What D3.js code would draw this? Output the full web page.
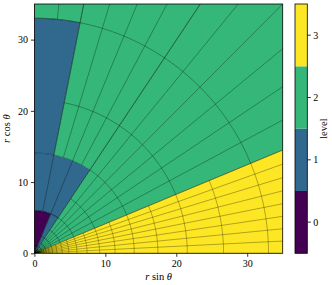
<!DOCTYPE html>
<html><head><meta charset="utf-8">
<script src="https://cdn.jsdelivr.net/npm/d3@7"></script>
<style>body{margin:0;background:#fff}svg{display:block}</style>
</head><body>
<svg id="c" width="332" height="285"></svg>
<script>
// ---- data ----
const levels = [0, 1, 2, 3];
const levelColors = ["#440154", "#31688e", "#35b779", "#fde725"];
// refinement regions (theta in degrees measured from the vertical axis)
const regionLevel  = [0, 1, 1, 1, 2, 2, 2, 3];
const regionRIn    = [0, 0, 6, 14.07, 33, 14.07, 0, 0];
const regionROut   = [6, 6, 14.07, 33, 50, 50, 50, 50];
const regionThStart= [0, 22.5, 0, 0, 0, 11.25, 33.75, 67.5];
const regionThEnd  = [22.5, 33.75, 33.75, 11.25, 11.25, 33.75, 67.5, 90];
// mesh parameters
const baseDTheta = 22.5;   // level-0 angular cell size (deg)
const rRef = 6;            // a level-0 radial face
const rRatio0 = 5.5;       // level-0 radial cell ratio
const rMin = 0.01;
const xTicks = [0, 10, 20, 30];
const yTicks = [0, 10, 20, 30];
const cbarTicks = [0, 1, 2, 3];

// ---- layout ----
const svg = d3.select("#c");
const x = d3.scaleLinear().domain([0, 35]).range([34.4, 282.7]);
const y = d3.scaleLinear().domain([0, 35]).range([253.3, 4]);
const rad = Math.PI / 180;
const P = (r, th) => [x(r * Math.sin(th * rad)), y(r * Math.cos(th * rad))];

svg.append("defs").append("clipPath").attr("id", "clip")
  .append("rect").attr("x", x(0)).attr("y", y(35))
  .attr("width", x(35) - x(0)).attr("height", y(0) - y(35));

const plot = svg.append("g").attr("clip-path", "url(#clip)");
const line = d3.line();

function sectorPts(ri, ro, ts, te) {
  const pts = [];
  const n = Math.max(8, Math.ceil((te - ts) / 0.5));
  for (let i = 0; i <= n; i++) pts.push(P(ro, ts + (te - ts) * i / n));
  for (let i = n; i >= 0; i--) pts.push(P(ri, ts + (te - ts) * i / n));
  return pts;
}

// fills
regionLevel.forEach((L, i) => {
  plot.append("path")
    .attr("d", line(sectorPts(regionRIn[i], regionROut[i], regionThStart[i], regionThEnd[i])) + "Z")
    .attr("fill", levelColors[L]).attr("stroke", levelColors[L]).attr("stroke-width", 0.3);
});

// mesh lines
const mesh = plot.append("g").attr("fill", "none").attr("stroke", "#000")
  .attr("stroke-opacity", 0.55).attr("stroke-width", 0.55);
regionLevel.forEach((L, i) => {
  const ri = regionRIn[i], ro = regionROut[i], ts = regionThStart[i], te = regionThEnd[i];
  const dth = baseDTheta / Math.pow(2, L);
  const lstep = Math.log(rRatio0) / Math.pow(2, L);
  const r0 = Math.max(ri, rMin);
  // radial lines
  for (let k = Math.ceil(ts / dth - 1e-6); k * dth <= te + 1e-6; k++) {
    const th = k * dth;
    mesh.append("path").attr("d", line([P(ri, th), P(ro, th)]));
  }
  // arcs
  const kLo = Math.ceil(Math.log(r0 / rRef) / lstep - 1e-6);
  const kHi = Math.floor(Math.log(ro / rRef) / lstep + 1e-6);
  for (let k = kLo; k <= kHi; k++) {
    const r = rRef * Math.exp(k * lstep);
    const n = Math.max(4, Math.ceil((te - ts) / 0.5));
    const pts = d3.range(n + 1).map(j => P(r, ts + (te - ts) * j / n));
    mesh.append("path").attr("d", line(pts));
  }
});

// frame
svg.append("rect").attr("x", x(0)).attr("y", y(35))
  .attr("width", x(35) - x(0)).attr("height", y(0) - y(35))
  .attr("fill", "none").attr("stroke", "#000").attr("stroke-width", 0.8);

const font = "'Liberation Serif', 'DejaVu Serif', serif";
// axes
const xAxis = svg.append("g").attr("transform", `translate(0,${y(0)})`)
  .call(d3.axisBottom(x).tickValues(xTicks).tickSize(3.5).tickPadding(3));
const yAxis = svg.append("g").attr("transform", `translate(${x(0)},0)`)
  .call(d3.axisLeft(y).tickValues(yTicks).tickSize(3.5).tickPadding(3));
[xAxis, yAxis].forEach(a => {
  a.select(".domain").remove();
  a.selectAll("line").attr("stroke", "#000").attr("stroke-width", 0.8);
  a.selectAll("text").attr("font-family", font).attr("font-size", 10).attr("fill", "#000");
});

// axis labels
const xl = svg.append("text").attr("x", (x(0) + x(35)) / 2).attr("y", 280)
  .attr("text-anchor", "middle").attr("font-family", font).attr("font-size", 10.5);
xl.append("tspan").attr("font-style", "italic").text("r");
xl.append("tspan").text(" sin ");
xl.append("tspan").attr("font-style", "italic").text("θ");
const yl = svg.append("text").attr("transform", `translate(10,${(y(0) + y(35)) / 2}) rotate(-90)`)
  .attr("text-anchor", "middle").attr("font-family", font).attr("font-size", 10.5);
yl.append("tspan").attr("font-style", "italic").text("r");
yl.append("tspan").text(" cos ");
yl.append("tspan").attr("font-style", "italic").text("θ");

// colorbar
const cb = d3.scaleBand().domain(levels.slice().reverse()).range([4, 253.3]).paddingInner(0).paddingOuter(0);
const cbx = 295, cbw = 12.3;
levels.forEach(L => {
  svg.append("rect").attr("x", cbx).attr("y", cb(L)).attr("width", cbw).attr("height", cb.bandwidth())
    .attr("fill", levelColors[L]);
});
svg.append("rect").attr("x", cbx).attr("y", 4).attr("width", cbw).attr("height", 249.3)
  .attr("fill", "none").attr("stroke", "#000").attr("stroke-width", 0.8);
cbarTicks.forEach(t => {
  const yy = cb(t) + cb.bandwidth() / 2;
  svg.append("line").attr("x1", cbx + cbw).attr("x2", cbx + cbw + 3.5).attr("y1", yy).attr("y2", yy)
    .attr("stroke", "#000").attr("stroke-width", 0.8);
  svg.append("text").attr("x", cbx + cbw + 6).attr("y", yy).attr("dy", "0.35em")
    .attr("font-family", font).attr("font-size", 10).text(t);
});
svg.append("text").attr("transform", `translate(327,${(4 + 253.3) / 2}) rotate(-90)`)
  .attr("text-anchor", "middle").attr("font-family", font).attr("font-size", 10.5).text("level");
</script>
</body></html>
